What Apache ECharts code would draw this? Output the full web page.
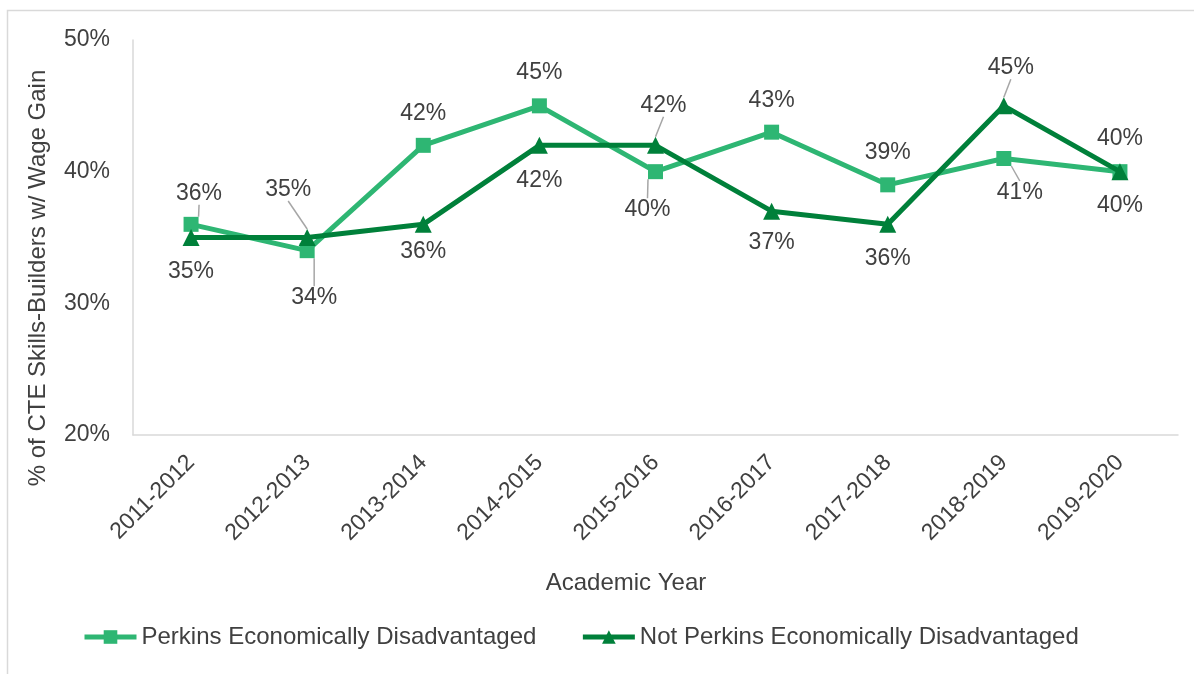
<!DOCTYPE html>
<html>
<head>
<meta charset="utf-8">
<script src="https://cdn.jsdelivr.net/npm/echarts@6/dist/echarts.min.js"></script>
<style>
html,body{margin:0;padding:0;background:#fff;}
#chart{width:1194px;height:674px;}
</style>
</head>
<body>
<div id="chart"></div>
<script>
// ---- data ----
var categories = ['2011-2012','2012-2013','2013-2014','2014-2015','2015-2016','2016-2017','2017-2018','2018-2019','2019-2020'];
var perkinsName = 'Perkins Economically Disadvantaged';
var notPerkinsName = 'Not Perkins Economically Disadvantaged';
var perkinsValues = [36, 34, 42, 45, 40, 43, 39, 41, 40];
var notPerkinsValues = [35, 35, 36, 42, 42, 37, 36, 45, 40];
var yTicks = [20, 30, 40, 50];

// ---- label placement (style only) ----
var perkinsLabelOffsets = [[8,-31],[7,47],[0,-32],[0,-33],[-8,38],[0,-32],[0,-32],[16,34],[0,-33]];
var perkinsLeader = [true,true,false,false,true,false,false,true,false];
var notLabelOffsets = [[0,34],[-19,-48],[0,27],[0,35],[8,-40],[0,31],[0,34],[7,-38],[0,34]];
var notLeader = [false,true,false,false,true,false,false,true,false];
var labelOffsets = [perkinsLabelOffsets, notLabelOffsets];

var FONT = 'Liberation Sans, Arial, sans-serif';
var TXT = '#404040';
var LIGHT = '#2EB673';
var DARK = '#00803A';

function buildData(values, leaders) {
  return values.map(function (v, i) {
    return { value: v, labelLine: { show: leaders[i] } };
  });
}

var chart = echarts.init(document.getElementById('chart'), null, { renderer: 'canvas' });
var option = {
  backgroundColor: '#ffffff',
  animation: false,
  textStyle: { fontFamily: FONT },
  grid: { left: 133, right: 16, top: 40, bottom: 239, outerBoundsMode: 'none', containLabel: false },
  xAxis: {
    type: 'category',
    data: categories,
    boundaryGap: true,
    axisLine: { show: true, lineStyle: { color: '#d9d9d9', width: 1.5 } },
    axisTick: { show: false },
    axisLabel: { interval: 0, rotate: 45, fontSize: 23, color: TXT, fontFamily: FONT, margin: 24 }
  },
  yAxis: {
    type: 'value',
    min: yTicks[0],
    max: yTicks[yTicks.length - 1],
    interval: yTicks[1] - yTicks[0],
    axisLine: { show: true, lineStyle: { color: '#d9d9d9', width: 1.5 } },
    axisTick: { show: false },
    splitLine: { show: false },
    axisLabel: { formatter: '{value}%', fontSize: 23, color: TXT, fontFamily: FONT, margin: 23 }
  },
  legend: {
    data: [perkinsName, notPerkinsName],
    left: 77,
    top: 620,
    itemWidth: 52,
    itemHeight: 17,
    itemGap: 44,
    lineStyle: { width: 5 },
    textStyle: { fontSize: 24, color: TXT, fontFamily: FONT }
  },
  graphic: [
    { type: 'rect', silent: true, z: -10,
      shape: { x: 7.5, y: 10.5, width: 1300, height: 800 },
      style: { fill: 'none', stroke: '#d9d9d9', lineWidth: 1.5 } },
    { type: 'text', x: 38, y: 278, rotation: Math.PI / 2,
      style: { text: '% of CTE Skills-Builders w/ Wage Gain', fontSize: 24, fontFamily: FONT, fill: TXT,
               textAlign: 'center', textVerticalAlign: 'middle' } },
    { type: 'text', x: 626, y: 583,
      style: { text: 'Academic Year', fontSize: 24, fontFamily: FONT, fill: TXT,
               textAlign: 'center', textVerticalAlign: 'middle' } }
  ],
  labelLayout: function (params) {
    var off = labelOffsets[params.seriesIndex][params.dataIndex];
    return { dx: off[0], dy: off[1] };
  },
  series: [
    {
      name: perkinsName,
      type: 'line',
      data: buildData(perkinsValues, perkinsLeader),
      symbol: 'rect',
      symbolSize: 15,
      showSymbol: true,
      showAllSymbol: true,
      lineStyle: { color: LIGHT, width: 5 },
      itemStyle: { color: LIGHT },
      label: { show: true, position: 'inside', formatter: '{c}%', fontSize: 23, color: TXT, fontFamily: FONT },
      labelLine: { show: false, lineStyle: { color: '#a6a6a6', width: 1.5 } },
      labelLayout: function (params) {
        var off = perkinsLabelOffsets[params.dataIndex];
        return { dx: off[0], dy: off[1] };
      },
      emphasis: { disabled: true },
      z: 2
    },
    {
      name: notPerkinsName,
      type: 'line',
      data: buildData(notPerkinsValues, notLeader),
      symbol: 'triangle',
      symbolSize: 17,
      showSymbol: true,
      showAllSymbol: true,
      lineStyle: { color: DARK, width: 5 },
      itemStyle: { color: DARK },
      label: { show: true, position: 'inside', formatter: '{c}%', fontSize: 23, color: TXT, fontFamily: FONT },
      labelLine: { show: false, lineStyle: { color: '#a6a6a6', width: 1.5 } },
      labelLayout: function (params) {
        var off = notLabelOffsets[params.dataIndex];
        return { dx: off[0], dy: off[1] };
      },
      emphasis: { disabled: true },
      z: 3
    }
  ]
};
chart.setOption(option);
</script>
</body>
</html>
